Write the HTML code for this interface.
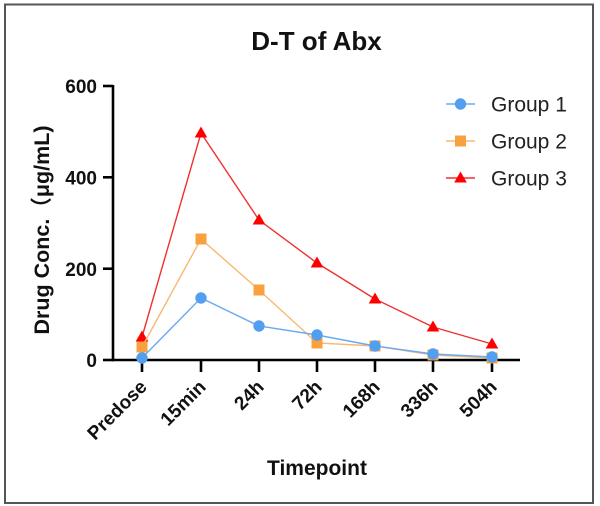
<!DOCTYPE html>
<html>
<head>
<meta charset="utf-8">
<style>
  html,body{margin:0;padding:0;background:#fff;}
  svg{display:block;}
  text{font-family:"Liberation Sans","Noto Sans CJK SC",sans-serif;}
</style>
</head>
<body>
<svg width="600" height="506" viewBox="0 0 600 506" xmlns="http://www.w3.org/2000/svg">
  <rect x="0" y="0" width="600" height="506" fill="#fff"/>
  <rect x="5" y="4.5" width="588" height="498.5" fill="none" stroke="#555" stroke-width="2"/>

  <!-- Title -->
  <text x="316.5" y="50" font-size="26" font-weight="bold" text-anchor="middle" fill="#111">D-T of Abx</text>

  <!-- Axes -->
  <g stroke="#000" stroke-width="2.6" fill="none">
    <line x1="113" y1="85" x2="113" y2="361.3"/>
    <line x1="111.7" y1="360" x2="520" y2="360"/>
    <!-- y ticks -->
    <line x1="103" y1="86" x2="113" y2="86"/>
    <line x1="103" y1="177.3" x2="113" y2="177.3"/>
    <line x1="103" y1="268.7" x2="113" y2="268.7"/>
    <line x1="103" y1="360" x2="113" y2="360"/>
    <!-- x ticks -->
    <line x1="142" y1="360" x2="142" y2="372"/>
    <line x1="201" y1="360" x2="201" y2="372"/>
    <line x1="259" y1="360" x2="259" y2="372"/>
    <line x1="317" y1="360" x2="317" y2="372"/>
    <line x1="375" y1="360" x2="375" y2="372"/>
    <line x1="433" y1="360" x2="433" y2="372"/>
    <line x1="492" y1="360" x2="492" y2="372"/>
  </g>

  <!-- y tick labels -->
  <g font-size="19" font-weight="bold" text-anchor="end" fill="#111">
    <text x="97" y="93">600</text>
    <text x="97" y="184.5">400</text>
    <text x="97" y="276">200</text>
    <text x="97" y="367">0</text>
  </g>

  <!-- x tick labels -->
  <g font-size="19" font-weight="bold" text-anchor="end" fill="#111">
    <text transform="translate(148,388) rotate(-45)">Predose</text>
    <text transform="translate(207,388) rotate(-45)">15min</text>
    <text transform="translate(265,388) rotate(-45)">24h</text>
    <text transform="translate(323,388) rotate(-45)">72h</text>
    <text transform="translate(381,388) rotate(-45)">168h</text>
    <text transform="translate(439,388) rotate(-45)">336h</text>
    <text transform="translate(498,388) rotate(-45)">504h</text>
  </g>

  <!-- axis titles -->
  <text x="317" y="475" font-size="21" font-weight="bold" text-anchor="middle" fill="#111">Timepoint</text>
  <text transform="translate(49,230) rotate(-90)" font-size="21.5" font-weight="bold" text-anchor="middle" fill="#111">Drug Conc.（μg/mL)</text>

  <!-- Group 3 red -->
  <polyline fill="none" stroke="#f03030" stroke-width="1.4"
    points="142,337 201,133 259,220 317,263 375,299 433,327 492,344"/>
  <g fill="#ff0000">
    <polygon points="142,330.5 148.3,341.5 135.7,341.5"/>
    <polygon points="201,126.5 207.3,137.5 194.7,137.5"/>
    <polygon points="259,213.5 265.3,224.5 252.7,224.5"/>
    <polygon points="317,256.5 323.3,267.5 310.7,267.5"/>
    <polygon points="375,292.5 381.3,303.5 368.7,303.5"/>
    <polygon points="433,320.5 439.3,331.5 426.7,331.5"/>
    <polygon points="492,337.5 498.3,348.5 485.7,348.5"/>
  </g>

  <!-- Group 2 orange -->
  <polyline fill="none" stroke="#f9b870" stroke-width="1.4"
    points="142,347 201,239 259,290 317,343 375,346 433,355 492,358"/>
  <g fill="#f9a03f">
    <rect x="136.5" y="341.5" width="11" height="11"/>
    <rect x="195.5" y="233.5" width="11" height="11"/>
    <rect x="253.5" y="284.5" width="11" height="11"/>
    <rect x="311.5" y="337.5" width="11" height="11"/>
    <rect x="369.5" y="340.5" width="11" height="11"/>
    <rect x="427.5" y="349.5" width="11" height="11"/>
    <rect x="486.5" y="352.5" width="11" height="11"/>
  </g>

  <!-- Group 1 blue -->
  <polyline fill="none" stroke="#6aaaf2" stroke-width="1.4"
    points="142,358 201,298 259,326 317,335 375,346 433,354 492,357"/>
  <g fill="#529ff2">
    <circle cx="142" cy="358" r="5.7"/>
    <circle cx="201" cy="298" r="5.7"/>
    <circle cx="259" cy="326" r="5.7"/>
    <circle cx="317" cy="335" r="5.7"/>
    <circle cx="375" cy="346" r="5.7"/>
    <circle cx="433" cy="354" r="5.7"/>
    <circle cx="492" cy="357" r="5.7"/>
  </g>

  <!-- Legend -->
  <line x1="446" y1="104" x2="475" y2="104" stroke="#6aaaf2" stroke-width="1.4"/>
  <circle cx="460.5" cy="104" r="5.7" fill="#529ff2"/>
  <line x1="446" y1="141" x2="475" y2="141" stroke="#f9b870" stroke-width="1.4"/>
  <rect x="455" y="135.5" width="11" height="11" fill="#f9a03f"/>
  <line x1="446" y1="178" x2="475" y2="178" stroke="#f03030" stroke-width="1.4"/>
  <polygon points="460.5,171.5 466.8,182.5 454.2,182.5" fill="#ff0000"/>
  <g font-size="21" fill="#222">
    <text x="491" y="111.5">Group 1</text>
    <text x="491" y="148.5">Group 2</text>
    <text x="491" y="185.5">Group 3</text>
  </g>
</svg>
</body>
</html>
